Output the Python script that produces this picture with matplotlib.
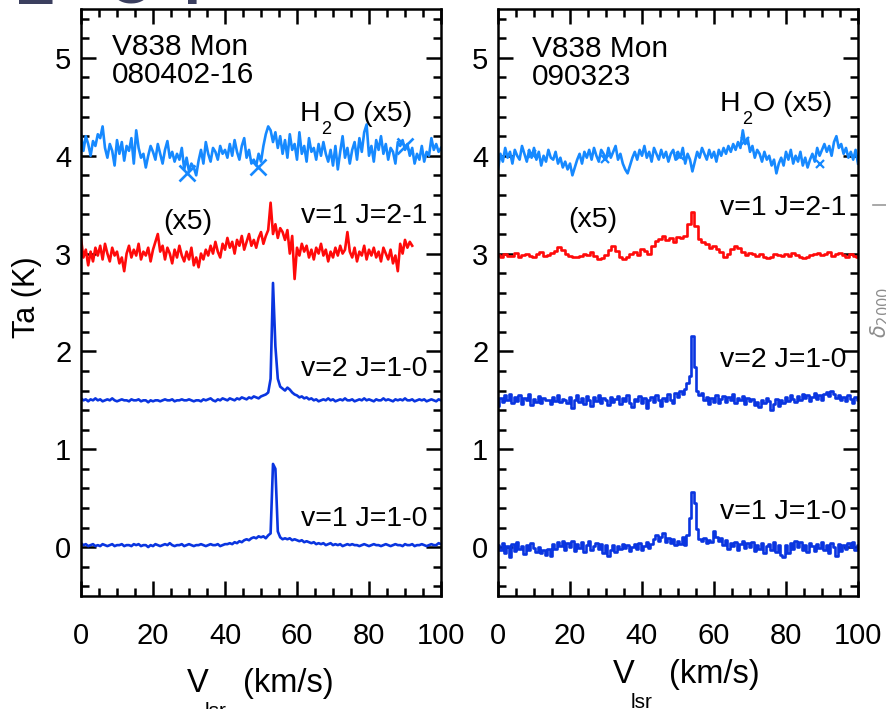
import numpy as np
import matplotlib
matplotlib.use("Agg")
import matplotlib.pyplot as plt
import matplotlib.transforms as mtransforms
from matplotlib.ticker import MultipleLocator
from matplotlib.lines import Line2D

plt.rcParams['font.family'] = ['Liberation Sans', 'DejaVu Sans']

# ---------------------------------------------------------------- data
# velocity grids (km/s)
vel = np.linspace(0, 100, 151)
vel_sio21_a = np.linspace(0, 92, 139)
vel_sio21_b = np.linspace(0, 100, 101)

# ---- epoch 080402-16
h2o_a = [4.22, 4.05, 4.20, 4.12, 4.00,
         4.15, 4.10, 4.22, 4.18, 4.30, 4.08,
         3.98, 4.12, 4.05, 3.90, 4.16, 4.02,
         4.14, 3.95, 4.10, 4.05, 4.18, 3.92,
         4.26, 4.08, 3.98, 4.02, 3.88, 4.00,
         4.10, 4.04, 3.96, 4.12, 4.02, 3.92,
         4.06, 4.15, 3.98, 4.04, 3.94, 4.02,
         3.96, 4.08, 3.86, 3.98, 3.84, 3.92,
         3.88, 3.80, 3.95, 4.06, 3.92, 4.14,
         4.02, 3.94, 4.08, 4.04, 3.96, 4.10,
         4.02, 4.06, 3.98, 4.12, 4.00, 4.16,
         4.04, 3.96, 4.10, 4.18, 3.98, 4.06,
         3.92, 3.96, 3.90, 4.02, 3.94, 4.10,
         4.22, 4.30, 4.26, 4.14, 4.24, 4.08,
         4.20, 4.02, 4.16, 3.98, 4.22, 4.06,
         4.12, 3.96, 4.24, 4.02, 4.10, 3.94,
         4.18, 4.04, 4.08, 3.96, 4.12, 4.00,
         4.14, 4.02, 3.94, 4.06, 3.90, 4.10,
         3.86, 4.04, 4.20, 3.98, 4.08, 3.92,
         4.06, 4.14, 3.96, 4.18, 4.04, 4.24,
         4.32, 4.00, 4.10, 3.94, 4.16, 4.06,
         4.20, 4.02, 4.12, 3.96, 4.08, 4.04,
         3.92, 4.14, 4.10, 4.16, 4.06, 4.12,
         4.00, 4.08, 3.92, 4.02, 3.96, 4.10,
         3.94, 4.04, 4.00, 4.18, 4.06, 4.12, 4.04, 4.08]
h2o_a_cross_v = [29.4, 49.2, 90.0]
h2o_a_cross_t = [3.82, 3.89, 4.10]

sio21_a = [3.15, 2.96, 3.04, 2.88, 3.02, 2.92,
           3.06, 2.98, 3.08, 2.94, 3.10, 3.00,
           2.92, 3.06, 2.98, 3.02, 2.90, 2.96,
           2.82, 3.00, 3.08, 2.96, 3.04, 2.98,
           3.10, 2.94, 3.02, 2.98, 3.06, 2.92,
           3.04, 3.12, 3.20, 3.02, 3.08, 2.94,
           3.06, 3.00, 2.90, 3.04, 2.96, 3.08,
           2.98, 2.92, 3.02, 2.94, 3.06, 2.88,
           2.96, 2.86, 3.00, 2.94, 3.04, 2.98,
           3.08, 3.00, 3.12, 3.02, 2.96, 3.10,
           3.04, 3.16, 3.06, 3.12, 3.00, 3.14,
           3.08, 3.18, 3.04, 3.12, 3.20, 3.08,
           3.14, 3.06, 3.16, 3.22, 3.10, 3.18,
           3.24, 3.52, 3.20, 3.30, 3.16, 3.26,
           3.22, 3.14, 3.24, 3.00, 3.18, 2.74,
           3.06, 2.98, 3.10, 3.02, 3.08, 2.96,
           3.04, 2.94, 3.06, 3.00, 3.10, 2.98,
           3.04, 2.92, 3.02, 2.96, 3.06, 2.98,
           3.08, 3.00, 3.04, 3.22, 3.02, 2.96,
           3.06, 2.92, 3.02, 2.98, 3.08, 2.94,
           3.04, 2.98, 3.06, 2.96, 3.02, 2.92,
           3.06, 3.00, 2.94, 3.04, 2.90, 2.98,
           2.82, 3.10, 3.00, 3.14, 3.06, 3.12, 3.08]

sio_v2_a = [1.52, 1.50, 1.51, 1.49, 1.51,
            1.50, 1.52, 1.50, 1.51, 1.49, 1.50,
            1.51, 1.50, 1.52, 1.50, 1.49, 1.50,
            1.51, 1.50, 1.50, 1.49, 1.51, 1.50,
            1.50, 1.51, 1.49, 1.50, 1.50, 1.48,
            1.50, 1.49, 1.50, 1.50, 1.49, 1.50,
            1.51, 1.50, 1.50, 1.51, 1.49, 1.50,
            1.50, 1.51, 1.50, 1.50, 1.51, 1.50,
            1.49, 1.50, 1.50, 1.49, 1.51, 1.50,
            1.51, 1.52, 1.50, 1.49, 1.51, 1.50,
            1.52, 1.51, 1.50, 1.52, 1.51, 1.50,
            1.52, 1.51, 1.53, 1.52, 1.51, 1.53,
            1.52, 1.54, 1.53, 1.52, 1.54, 1.55,
            1.56, 1.58, 1.72, 2.70, 2.05, 1.72,
            1.64, 1.62, 1.60, 1.63, 1.61, 1.58,
            1.56, 1.55, 1.53, 1.54, 1.52, 1.53,
            1.51, 1.52, 1.50, 1.51, 1.49, 1.50,
            1.51, 1.50, 1.52, 1.50, 1.51, 1.49,
            1.50, 1.51, 1.50, 1.52, 1.50, 1.50,
            1.51, 1.49, 1.50, 1.51, 1.50, 1.52,
            1.50, 1.51, 1.50, 1.49, 1.51, 1.50,
            1.50, 1.52, 1.50, 1.51, 1.50, 1.49,
            1.51, 1.50, 1.51, 1.50, 1.52, 1.50,
            1.50, 1.51, 1.49, 1.50, 1.51, 1.50,
            1.51, 1.49, 1.50, 1.51, 1.50, 1.49, 1.51, 1.50]

sio_v1_a = [0.04, 0.02, 0.03, 0.01, 0.02,
            0.03, 0.01, 0.02, 0.01, 0.03, 0.02,
            0.01, 0.02, 0.03, 0.01, 0.02, 0.02,
            0.03, 0.01, 0.02, 0.02, 0.01, 0.03,
            0.02, 0.03, 0.01, 0.02, 0.02, 0.00,
            0.02, 0.01, 0.03, 0.02, 0.01, 0.02,
            0.03, 0.02, 0.04, 0.02, 0.01, 0.02,
            0.02, 0.03, 0.01, 0.02, 0.03, 0.02,
            0.01, 0.02, 0.02, 0.03, 0.02, 0.01,
            0.02, 0.03, 0.02, 0.02, 0.03, 0.01,
            0.02, 0.03, 0.03, 0.04, 0.03, 0.05,
            0.04, 0.06, 0.05, 0.07, 0.08, 0.07,
            0.09, 0.10, 0.09, 0.11, 0.10, 0.11,
            0.09, 0.12, 0.14, 0.85, 0.80, 0.16,
            0.10, 0.08, 0.09, 0.08, 0.09, 0.07,
            0.08, 0.07, 0.06, 0.07, 0.05, 0.06,
            0.05, 0.04, 0.05, 0.03, 0.04, 0.03,
            0.04, 0.02, 0.03, 0.04, 0.02, 0.03,
            0.02, 0.03, 0.01, 0.02, 0.03, 0.02,
            0.03, 0.02, 0.02, 0.01, 0.02, 0.03,
            0.02, 0.01, 0.02, 0.03, 0.02, 0.02,
            0.01, 0.02, 0.03, 0.02, 0.01, 0.02,
            0.03, 0.02, 0.02, 0.01, 0.03, 0.02,
            0.02, 0.03, 0.01, 0.02, 0.02, 0.03,
            0.02, 0.01, 0.02, 0.03, 0.02, 0.02, 0.04, 0.03]

# ---- epoch 090323
h2o_b = [3.86, 4.02, 3.94, 4.08, 3.98,
         4.04, 3.92, 4.06, 4.00, 3.96, 4.10,
         4.02, 3.94, 4.06, 3.98, 4.08, 3.96,
         4.04, 3.90, 4.00, 3.94, 4.06, 3.98,
         3.96, 4.04, 3.92, 3.98, 3.88, 3.94,
         3.86, 3.92, 3.80, 3.88, 3.96, 4.02,
         3.92, 4.04, 3.98, 4.06, 3.96, 4.08,
         4.00, 3.94, 4.06, 4.02, 3.96, 4.08,
         3.98, 4.04, 4.10, 3.96, 4.02, 3.92,
         3.86, 3.82, 3.90, 3.98, 4.04, 3.96,
         4.06, 4.00, 4.10, 3.98, 4.04, 3.94,
         4.08, 4.02, 3.96, 4.06, 3.98, 4.04,
         3.94, 4.02, 4.06, 3.96, 4.04, 3.98,
         4.08, 3.92, 4.02, 3.96, 3.84, 3.94,
         4.04, 3.98, 4.08, 4.02, 3.96, 4.06,
         3.98, 4.04, 3.94, 4.06, 4.00, 4.08,
         4.02, 4.10, 4.04, 4.12, 4.06, 4.14,
         4.08, 4.26, 4.12, 4.18, 4.04, 4.10,
         3.98, 4.06, 4.02, 3.94, 4.04, 3.96,
         4.00, 3.90, 3.96, 3.82, 3.92, 3.98,
         3.90, 4.04, 3.96, 4.06, 3.92, 4.00,
         3.94, 4.04, 3.90, 3.98, 3.88, 3.96,
         4.02, 3.94, 4.08, 4.00, 4.06, 4.12,
         4.04, 4.10, 4.00, 4.14, 4.20, 4.08,
         4.12, 4.02, 4.08, 3.98, 4.04, 3.96, 4.06, 3.92]
h2o_b_cross_v = [9.5, 29.7, 50.5, 68.6, 89.4]
h2o_b_cross_t = [4.02, 3.97, 4.00, 4.15, 3.92]

sio21_b = [2.99, 2.97, 3.00, 2.98, 2.98, 3.01, 2.97, 2.99, 3.00, 2.98,
           2.97, 3.00, 3.02, 2.98, 2.99, 3.01, 3.03, 3.07, 3.04, 3.00,
           2.98, 2.97, 2.97, 2.98, 3.00, 2.99, 3.02, 2.98, 2.94, 2.95,
           2.99, 3.04, 3.08, 3.03, 2.97, 2.94, 2.97, 3.00, 3.02, 2.99,
           3.05, 3.03, 3.00, 3.08, 3.13, 3.15, 3.18, 3.14, 3.16, 3.12,
           3.17, 3.16, 3.18, 3.30, 3.42, 3.28, 3.15, 3.12, 3.10, 3.06,
           3.08, 3.05, 3.02, 2.97, 3.00, 3.05, 3.08, 3.06, 3.02, 2.99,
           3.01, 3.00, 2.98, 3.00, 2.97, 2.95, 2.96, 3.00, 2.99, 2.98,
           3.00, 2.98, 3.01, 2.99, 2.97, 2.95, 2.97, 2.99, 3.00, 3.01,
           2.99, 3.00, 3.02, 2.98, 3.00, 3.01, 2.99, 2.96, 3.00, 2.98,
           2.97]

sio_v2_b = [1.44, 1.52, 1.48, 1.55, 1.50,
            1.56, 1.47, 1.53, 1.49, 1.55, 1.46,
            1.52, 1.50, 1.56, 1.45, 1.51, 1.48,
            1.54, 1.47, 1.52, 1.50, 1.50, 1.46,
            1.53, 1.49, 1.55, 1.48, 1.51, 1.50,
            1.47, 1.53, 1.42, 1.50, 1.55, 1.48,
            1.52, 1.46, 1.54, 1.50, 1.44, 1.53,
            1.49, 1.55, 1.47, 1.52, 1.50, 1.45,
            1.53, 1.48, 1.51, 1.54, 1.46, 1.52,
            1.49, 1.55, 1.47, 1.43, 1.51, 1.49,
            1.54, 1.47, 1.52, 1.42, 1.50, 1.53,
            1.48, 1.55, 1.50, 1.44, 1.52, 1.49,
            1.56, 1.50, 1.47, 1.58, 1.53, 1.60,
            1.56, 1.62, 1.68, 1.75, 2.16, 1.84,
            1.60, 1.55, 1.57, 1.50, 1.53, 1.46,
            1.52, 1.48, 1.55, 1.47, 1.51, 1.54,
            1.48, 1.53, 1.50, 1.56, 1.47, 1.52,
            1.50, 1.54, 1.46, 1.52, 1.49, 1.51,
            1.45, 1.48, 1.43, 1.50, 1.47, 1.52,
            1.49, 1.40, 1.46, 1.51, 1.44, 1.50,
            1.47, 1.53, 1.49, 1.55, 1.51, 1.48,
            1.54, 1.50, 1.56, 1.52, 1.55, 1.49,
            1.53, 1.57, 1.51, 1.55, 1.50, 1.56,
            1.59, 1.54, 1.60, 1.56, 1.52, 1.55,
            1.50, 1.53, 1.49, 1.55, 1.51, 1.47, 1.53, 1.50]

sio_v1_b = [0.02, -0.03, 0.04, -0.06, 0.01,
            -0.10, 0.03, -0.04, 0.05, -0.02, 0.01,
            -0.07, 0.02, -0.03, 0.04, -0.01, -0.05,
            0.00, -0.06, -0.03, -0.08, -0.02, -0.09,
            0.03, -0.02, 0.05, 0.01, 0.06, -0.03,
            0.04, 0.00, 0.06, -0.04, 0.03, -0.01,
            0.05, -0.05, 0.02, 0.06, -0.03, 0.01,
            0.04, -0.02, 0.03, -0.06, 0.02, -0.09,
            -0.03, 0.02, -0.05, 0.01, -0.02, 0.03,
            -0.01, 0.02, -0.04, 0.00, 0.03, -0.02,
            0.04, -0.03, 0.01, 0.05, -0.01, 0.03,
            0.08, 0.12, 0.06, 0.10, 0.14, 0.05,
            0.09, 0.04, 0.08, 0.02, 0.06, 0.03,
            0.10, 0.02, 0.12, 0.30, 0.56, 0.45,
            0.18, 0.08, 0.06, 0.09, 0.04, 0.07,
            0.05, 0.16, 0.10, 0.06, 0.09, 0.02,
            0.07, -0.02, 0.04, 0.01, 0.05, -0.03,
            0.03, 0.06, -0.01, 0.04, 0.00, 0.05,
            -0.04, 0.02, -0.02, 0.04, -0.06, 0.01,
            0.03, -0.03, 0.05, -0.05, 0.02, -0.08,
            -0.10, 0.02, -0.06, 0.04, -0.02, 0.06,
            0.00, 0.05, -0.03, 0.02, -0.05, 0.04,
            0.01, -0.04, 0.03, -0.01, 0.05, -0.03,
            0.02, -0.06, 0.04, 0.00, -0.09, 0.03,
            -0.04, 0.02, -0.02, 0.04, 0.00, 0.05, -0.03, 0.02]

epochs = ["080402-16", "090323"]
source = "V838 Mon"
line_labels = ["v=1 J=2-1", "v=2 J=1-0", "v=1 J=1-0"]

# ---------------------------------------------------------------- style
C_H2O = '#1689ff'
C_RED = '#ff0a0a'
C_BLUE = '#0a35e0'
LW = 1.9
LBL = 20.5

fig = plt.figure(figsize=(8.86, 7.09), dpi=100)
W, H = 886.0, 709.0
ax_a = fig.add_axes([81 / W, 1 - 596 / H, 360 / W, 587 / H])
ax_b = fig.add_axes([498 / W, 1 - 596 / H, 360 / W, 587 / H])
renderer = fig.canvas.get_renderer()


def style_axes(ax):
    ax.set_xlim(0, 100)
    ax.set_ylim(-0.5, 5.5)
    ax.xaxis.set_major_locator(MultipleLocator(20))
    ax.xaxis.set_minor_locator(MultipleLocator(5))
    ax.yaxis.set_major_locator(MultipleLocator(1))
    ax.yaxis.set_minor_locator(MultipleLocator(0.2))
    ax.tick_params(which='both', direction='in', top=True, right=True,
                   width=1.8, labelsize=21, color='black')
    ax.tick_params(which='major', length=11)
    ax.tick_params(which='minor', length=6)
    ax.tick_params(axis='x', which='major', pad=18.5)
    ax.tick_params(axis='y', which='major', pad=7)
    for sp in ax.spines.values():
        sp.set_linewidth(1.8)


def text_runs(artist_parent, x, y, runs, transform, color='black'):
    """Place consecutive text pieces (text, size, dy_px, gap_px) on one line."""
    dx = 0.0
    for s, size, dy, gap in runs:
        dx += gap
        tr = mtransforms.offset_copy(transform, fig=fig, x=dx, y=dy, units='dots')
        t = artist_parent.text(x, y, s, transform=tr, fontsize=size,
                               ha='left', va='baseline', color=color)
        dx += t.get_window_extent(renderer).width


def h2o_label(ax, x, y):
    text_runs(ax, x, y, [("H", LBL, 0, 0), ("2", 13, -13, 1), ("O (x5)", LBL, 0, 1)],
              ax.transData)


for ax in (ax_a, ax_b):
    style_axes(ax)

# ---- left panel
ax_a.plot(vel, h2o_a, color=C_H2O, lw=LW)
ax_a.plot(h2o_a_cross_v, h2o_a_cross_t, ls='none', marker='x', ms=11, mew=1.9, color=C_H2O)
ax_a.plot(vel_sio21_a, sio21_a, color=C_RED, lw=LW)
ax_a.plot(vel, sio_v2_a, color=C_BLUE, lw=LW)
ax_a.plot(vel, sio_v1_a, color=C_BLUE, lw=LW)

ax_a.text(8.6, 5.25, f"{source}\n{epochs[0]}", fontsize=21.5, ha='left', va='top',
          linespacing=1.0)
h2o_label(ax_a, 60.8, 4.355)
ax_a.text(22.8, 3.25, "(x5)", fontsize=LBL, ha='left', va='baseline')
ax_a.text(96.2, 3.31, line_labels[0], fontsize=LBL, ha='right', va='baseline')
ax_a.text(96.2, 1.75, line_labels[1], fontsize=LBL, ha='right', va='baseline')
ax_a.text(96.2, 0.215, line_labels[2], fontsize=LBL, ha='right', va='baseline')

# ---- right panel
ax_b.plot(vel, h2o_b, color=C_H2O, lw=LW)
ax_b.plot(h2o_b_cross_v, h2o_b_cross_t, ls='none', marker='x', ms=6, mew=1.6, color=C_H2O)
ax_b.plot(vel_sio21_b, sio21_b, color=C_RED, lw=LW, drawstyle='steps-mid')
ax_b.plot(vel, sio_v2_b, color=C_BLUE, lw=LW, drawstyle='steps-mid')
ax_b.plot(vel, sio_v1_b, color=C_BLUE, lw=LW, drawstyle='steps-mid')

ax_b.text(9.4, 5.23, f"{source}\n{epochs[1]}", fontsize=21.5, ha='left', va='top',
          linespacing=1.0)
h2o_label(ax_b, 61.7, 4.46)
ax_b.text(19.4, 3.27, "(x5)", fontsize=LBL, ha='left', va='baseline')
ax_b.text(96.9, 3.39, line_labels[0], fontsize=LBL, ha='right', va='baseline')
ax_b.text(96.9, 1.84, line_labels[1], fontsize=LBL, ha='right', va='baseline')
ax_b.text(96.9, 0.286, line_labels[2], fontsize=LBL, ha='right', va='baseline')

# ---- axis titles
fig.text(27 / W, 1 - 297 / H, "Ta (K)", rotation=90, fontsize=22,
         ha='center', va='center')
xlabel_runs = [("V", 23.5, 0, 0), ("lsr", 15, -25, -4), ("(km/s)", 23.5, 0, 16)]
text_runs(fig, 187 / W, 1 - 692 / H, xlabel_runs, fig.transFigure)
text_runs(fig, 613 / W, 1 - 683 / H, xlabel_runs, fig.transFigure)

# ---- neighbouring page content at the margins
for s, xp in (("E", 15), ("O", 108), ("I", 184)):
    fig.text(xp / W, 1 - 4 / H, s, fontsize=43, fontweight='bold',
             color='#3b3f5f', ha='left', va='baseline')
fig.add_artist(Line2D([873 / W, 1.0], [1 - 205 / H, 1 - 205 / H], color='#9a9a9a', lw=1.2))
fig.text(880 / W, 1 - 312 / H, r'$\delta_{2000}$', rotation=90, fontsize=15,
         color='#8c8c8c', ha='center', va='center')

fig.savefig("out.png", dpi=100)
